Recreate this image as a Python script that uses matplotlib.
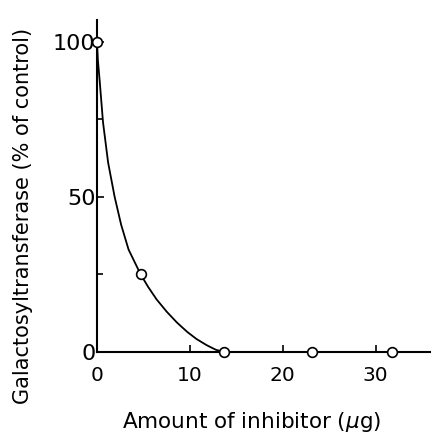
import matplotlib
matplotlib.use("Agg")
import matplotlib.pyplot as plt

# measured points
amount = [0, 4.7, 13.7, 23.1, 31.7]
activity = [100, 25, 0, 0, 0]

# hand-drawn fit curve
curve_x = [0, 0.1, 0.3, 0.65, 1.2, 1.9, 2.6, 3.4, 4.7, 5.5, 6.4, 7.5, 8.6, 9.7, 10.7, 11.8, 12.8, 13.7, 20, 30, 36]
curve_y = [100, 94, 87, 74, 61, 50, 41, 33, 25, 21, 17, 13, 9.5, 6.5, 4.2, 2.2, 0.7, 0, 0, 0, 0]

plt.rcParams['font.family'] = ['DejaVu Sans']

fig = plt.figure(figsize=(4.32, 4.34), dpi=100)
ax = fig.add_axes([0.2245, 0.189, 0.77, 0.765])

ax.plot(curve_x, curve_y, color='black', lw=1.3, zorder=2, solid_joinstyle='round')
ax.plot(amount, activity, 'o', ms=7, mfc='white', mec='black', mew=1.2, zorder=3, clip_on=False)

ax.set_xlim(0, 35.8)
ax.set_ylim(0, 107)
ax.spines['top'].set_visible(False)
ax.spines['right'].set_visible(False)
ax.spines['left'].set_linewidth(1.5)
ax.spines['bottom'].set_linewidth(1.5)

ax.set_xticks([0, 10, 20, 30])
ax.set_yticks([0, 50, 100])
ax.set_yticks([25, 75], minor=True)
ax.tick_params(axis='both', which='major', direction='in', length=5, width=1.2)
ax.tick_params(axis='y', which='minor', direction='in', length=4, width=1.2)
ax.tick_params(axis='x', which='major', pad=10, labelsize=14.5)
ax.tick_params(axis='y', which='major', pad=1, labelsize=16)

ax.set_xlabel('Amount of inhibitor ($\\mu$g)', fontsize=15.5)
ax.xaxis.set_label_coords(0.465, -0.175)
ax.set_ylabel('Galactosyltransferase (% of control)', fontsize=15)
ax.yaxis.set_label_coords(-0.193, 0.41)

fig.savefig('out.png', dpi=100)
